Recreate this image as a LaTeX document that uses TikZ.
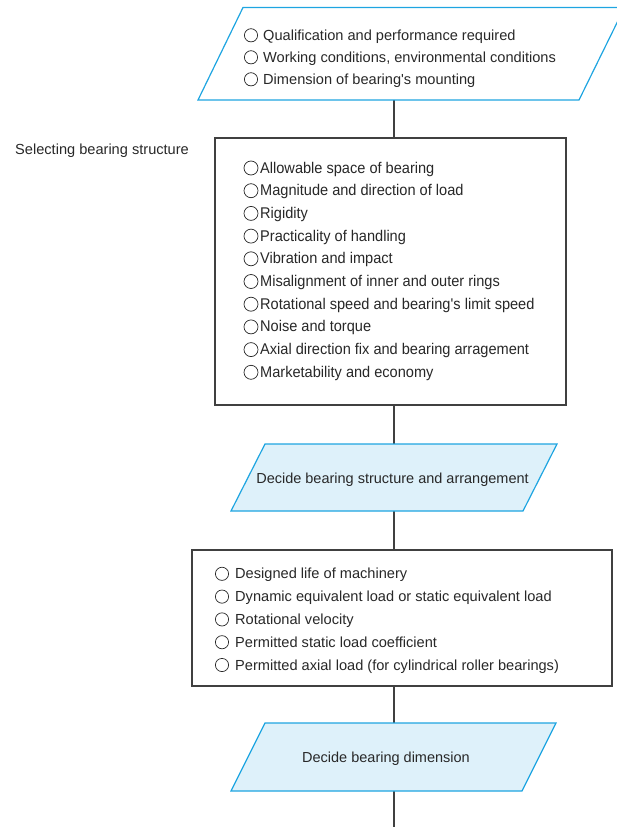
\documentclass[tikz,border=0pt]{standalone}
\usepackage{fontspec}
\setmainfont{Liberation Sans}
\newfontfamily\condfont[FakeStretch=0.94]{Liberation Sans}
\usetikzlibrary{calc}
\definecolor{linegray}{RGB}{64,64,64}
\definecolor{txtgray}{RGB}{40,40,40}
\definecolor{cyanline}{RGB}{30,165,225}
\definecolor{paleblue}{RGB}{222,241,250}
\newcommand{\apos}{\textquotesingle}
\begin{document}
\begin{tikzpicture}[x=1pt,y=-1pt,
  conn/.style={draw=linegray,line width=1.2pt},
  framebox/.style={draw=linegray,line width=1.2pt,inner sep=0,fill=white},
  para/.style={draw=cyanline,line width=1.2pt,line join=miter},
  itemA/.style={anchor=base west,inner sep=0,text=txtgray,font=\fontsize{14.6}{16}\selectfont},
  itemB/.style={anchor=base west,inner sep=0,text=txtgray,font=\condfont\fontsize{15.5}{17}\selectfont},
  itemC/.style={anchor=base west,inner sep=0,text=txtgray,font=\fontsize{14.6}{16}\selectfont},
  ptext/.style={inner sep=0,text=txtgray,font=\fontsize{14.5}{16}\selectfont},
  bul/.style={draw=txtgray,line width=0.7pt},
  hole/.style={inner sep=0,draw=none}
]
\useasboundingbox (0,0) rectangle (616,827);
\coordinate (axis) at (394,0);
\coordinate (end) at (394,827);

% top parallelogram
\node[hole,minimum width=380,minimum height=92.5] (p1) at (411,53.75) {};
% box 2
\node[framebox,minimum width=351,minimum height=267] (b2) at (390.5,271.5) {};
% parallelogram 3
\node[hole,minimum width=292,minimum height=67] (p3) at (394,477.5) {};
% box 4
\node[framebox,minimum width=420,minimum height=136] (b4) at (402,618) {};
% parallelogram 5
\node[hole,minimum width=291,minimum height=68] (p5) at (393.5,757) {};

% connectors
\draw[conn] (p1.south -| axis) -- (b2.north -| axis);
\draw[conn] (b2.south -| axis) -- (p3.north -| axis);
\draw[conn] (p3.south -| axis) -- (b4.north -| axis);
\draw[conn] (b4.south -| axis) -- (p5.north -| axis);
\draw[conn] (p5.south -| axis) -- (end);

% parallelogram shapes
\draw[para] (243,7.5) -- (624.5,7.5) -- (579,100) -- (198,100) -- cycle;
\draw[para,fill=paleblue] (265,444) -- (557,444) -- (523,511) -- (231,511) -- cycle;
\draw[para,fill=paleblue] (265,723) -- (556,723) -- (522,791) -- (231,791) -- cycle;

% top items
\foreach \t [count=\i] in {Qualification and performance required,{Working conditions, environmental conditions},Dimension of bearing\apos s mounting}{
  \draw[bul] (251,13.3+22*\i) circle (6.6);
  \node[itemA] (ta\i) at (263,18.8+22*\i) {\t};
}

% side label
\node[itemA] (sel) at (15,154) {Selecting bearing structure};

% box 2 items
\foreach \t [count=\i] in {Allowable space of bearing,Magnitude and direction of load,Rigidity,Practicality of handling,Vibration and impact,Misalignment of inner and outer rings,Rotational speed and bearing\apos s limit speed,Noise and torque,Axial direction fix and bearing arragement,Marketability and economy}{
  \draw[bul] (251,145.3+22.7*\i) circle (7);
  \node[itemB] (tb\i) at (260,150.3+22.7*\i) {\t};
}

% parallelogram 3 text
\node[ptext] (d3) at (392.5,479.5) {Decide bearing structure and arrangement};

% box 4 items
\foreach \t [count=\i] in {Designed life of machinery,Dynamic equivalent load or static equivalent load,Rotational velocity,Permitted static load coefficient,Permitted axial load (for cylindrical roller bearings)}{
  \draw[bul] (222,551+22.8*\i) circle (6.6);
  \node[itemC] (tc\i) at (235,556+22.8*\i) {\t};
}

% parallelogram 5 text
\node[ptext] (d5) at (386,759) {Decide bearing dimension};
\end{tikzpicture}
\end{document}
